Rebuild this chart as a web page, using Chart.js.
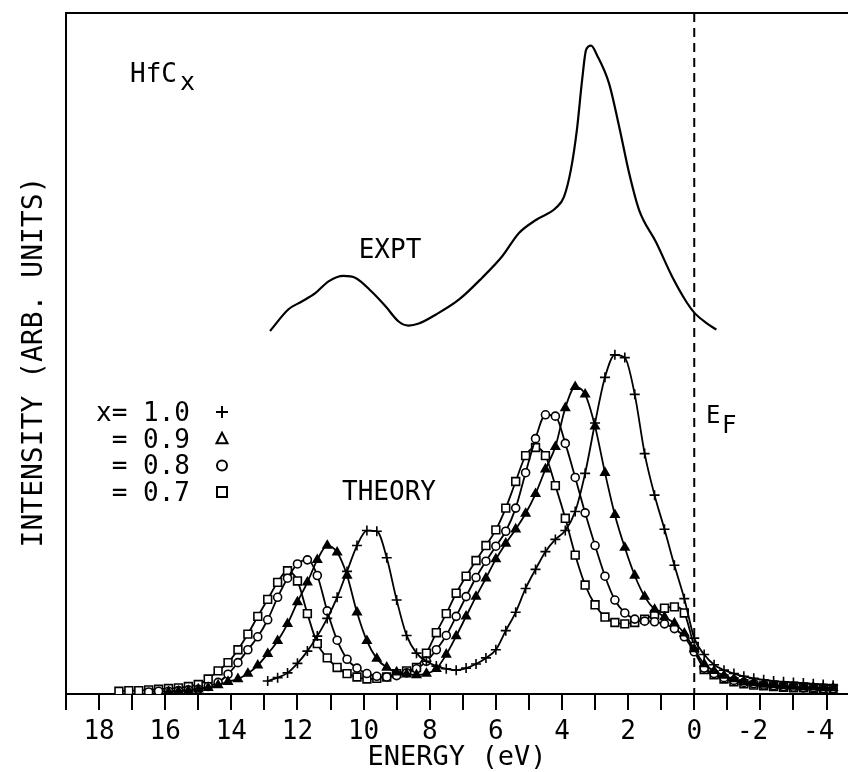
<!DOCTYPE html>
<html>
<head>
<meta charset="utf-8">
<title>HfCx spectra</title>
<script src="https://cdn.jsdelivr.net/npm/chart.js@4.4.1/dist/chart.umd.min.js"></script>
<style>
  html, body { margin: 0; padding: 0; background: #fff; }
  #wrap { width: 848px; height: 772px; }
</style>
</head>
<body>
<div id="wrap"><canvas id="myChart" width="848" height="772"></canvas></div>
<script>
// ---------------------------------------------------------------- data

// experimental curve (energy in eV, intensity in arb. units)
const exptEnergy = [12.83, 12.27, 11.88, 11.45, 11.06, 10.61, 10.24, 9.76, 9.33, 8.94,
  8.64, 8.33, 7.82, 7.12, 6.42, 5.82, 5.30, 4.79, 4.18, 3.94,
  3.73, 3.55, 3.39, 3.27, 3.12, 2.94, 2.58, 2.27, 1.97, 1.67,
  1.15, 0.67, 0.24, 0.0, -0.36, -0.67];
const exptIntensity = [53.3, 56.5, 57.6, 58.9, 60.6, 61.4, 61.1, 59.1, 56.9, 54.7,
  54.1, 54.4, 55.7, 57.9, 61.1, 64.2, 67.7, 69.6, 71.4, 73.0,
  77.0, 82.8, 90.2, 94.6, 95.2, 93.8, 89.7, 83.3, 76.5, 71.1,
  66.3, 61.3, 57.6, 56.0, 54.5, 53.5];

// theory curves, all sampled on the same energies
const theoryEnergy = [17.4, 17.1, 16.8, 16.5, 16.2, 15.9, 15.6, 15.3, 15.0, 14.7,
  14.4, 14.1, 13.8, 13.5, 13.2, 12.9, 12.6, 12.3, 12.0, 11.7,
  11.4, 11.1, 10.8, 10.5, 10.2, 9.9, 9.6, 9.3, 9.0, 8.7,
  8.4, 8.1, 7.8, 7.5, 7.2, 6.9, 6.6, 6.3, 6.0, 5.7,
  5.4, 5.1, 4.8, 4.5, 4.2, 3.9, 3.6, 3.3, 3.0, 2.7,
  2.4, 2.1, 1.8, 1.5, 1.2, 0.9, 0.6, 0.3, 0.0, -0.3,
  -0.6, -0.9, -1.2, -1.5, -1.8, -2.1, -2.4, -2.7, -3.0, -3.3,
  -3.6, -3.9, -4.2];

const theoryX10 = [null, null, null, null, null, null, null, null, null, null,
  null, null, null, null, null, 1.9, 2.4, 3.1, 4.5, 6.3,
  8.5, 11.1, 14.2, 18.0, 21.8, 24.0, 23.9, 20.0, 13.8, 8.6,
  6.0, 4.8, 4.1, 3.7, 3.5, 3.8, 4.4, 5.3, 6.5, 9.3,
  12.0, 15.5, 18.3, 20.9, 22.7, 24.0, 26.8, 32.4, 39.8, 46.5,
  49.8, 49.4, 44.0, 35.3, 29.2, 24.2, 18.9, 14.0, 8.2, 5.8,
  4.3, 3.5, 3.0, 2.6, 2.3, 2.1, 1.9, 1.8, 1.7, 1.6,
  1.5, 1.4, 1.3];

const theoryX09 = [null, null, null, null, null, 0.3, 0.4, 0.5, 0.7, 0.9,
  1.3, 1.8, 2.2, 3.0, 4.2, 5.9, 7.8, 10.3, 13.5, 16.4,
  19.7, 21.8, 20.8, 17.4, 12.0, 7.8, 5.2, 3.9, 3.2, 2.9,
  2.8, 3.0, 3.7, 5.8, 8.5, 11.4, 14.3, 17.0, 19.8, 22.1,
  24.2, 26.5, 29.4, 33.0, 36.3, 42.0, 45.1, 44.0, 39.3, 32.5,
  26.3, 21.5, 17.4, 14.3, 12.4, 11.3, 10.4, 8.9, 6.6, 4.4,
  3.4, 2.7, 2.2, 1.8, 1.6, 1.4, 1.3, 1.2, 1.1, 1.0,
  1.0, 0.9, 0.9];

const theoryX08 = [null, null, null, 0.3, 0.4, 0.4, 0.5, 0.6, 0.7, 1.1,
  1.7, 2.9, 4.6, 6.5, 8.4, 10.9, 14.2, 17.0, 19.1, 19.7,
  17.4, 12.2, 7.9, 5.1, 3.8, 3.0, 2.6, 2.5, 2.7, 3.1,
  3.7, 4.8, 6.5, 8.6, 11.4, 14.3, 17.1, 19.5, 21.7, 23.9,
  27.3, 32.5, 37.5, 41.0, 40.8, 36.8, 31.8, 26.6, 21.8, 17.3,
  13.8, 11.9, 11.0, 10.7, 10.6, 10.3, 9.6, 8.4, 6.2, 3.8,
  3.0, 2.4, 2.0, 1.7, 1.5, 1.3, 1.2, 1.1, 1.0, 0.9,
  0.9, 0.8, 0.8];

const theoryX07 = [0.4, 0.5, 0.5, 0.6, 0.7, 0.8, 0.9, 1.1, 1.4, 2.2,
  3.4, 4.6, 6.5, 8.8, 11.4, 13.9, 16.4, 18.1, 16.6, 11.8,
  7.4, 5.3, 3.9, 3.0, 2.5, 2.2, 2.3, 2.5, 3.0, 3.4,
  3.9, 6.0, 9.0, 11.8, 14.8, 17.3, 19.6, 21.8, 24.1, 27.3,
  31.2, 35.0, 36.2, 35.0, 30.6, 25.8, 20.4, 16.0, 13.1, 11.3,
  10.5, 10.3, 10.5, 11.0, 11.7, 12.6, 12.8, 11.9, 7.0, 3.6,
  2.8, 2.2, 1.8, 1.5, 1.3, 1.2, 1.1, 1.0, 0.9, 0.9,
  0.8, 0.8, 0.8];

const legendLabels = ['x= 1.0', '= 0.9', '= 0.8', '= 0.7'];
const legendStyles = ['cross', 'triangle', 'circle', 'rect'];

// ----------------------------------------------------------------

const FONT = "'DejaVu Sans Mono', 'Liberation Mono', monospace";

function toPoints(xs, ys) {
  var out = [];
  for (var i = 0; i < xs.length; i++) {
    if (ys[i] !== null) out.push({ x: xs[i], y: ys[i] });
  }
  return out;
}

function theorySet(values, style, radius, fill) {
  return {
    data: toPoints(theoryEnergy, values),
    borderColor: '#000',
    borderWidth: 1.8,
    cubicInterpolationMode: 'monotone',
    pointStyle: style,
    pointRadius: radius,
    pointBorderWidth: 1.6,
    pointBorderColor: '#000',
    pointBackgroundColor: fill,
    fill: false
  };
}

const data = {
  datasets: [
    {
      data: toPoints(exptEnergy, exptIntensity),
      borderColor: '#000',
      borderWidth: 2.2,
      pointRadius: 0,
      cubicInterpolationMode: 'monotone',
      fill: false
    },
    theorySet(theoryX10, 'cross', 5, '#000'),
    theorySet(theoryX09, 'triangle', 4.8, '#000'),
    theorySet(theoryX08, 'circle', 4, '#fff'),
    theorySet(theoryX07, 'rect', 5.5, '#fff')
  ]
};

function marker(ctx, style, x, y) {
  ctx.beginPath();
  if (style === 'cross') {
    ctx.moveTo(x - 6, y); ctx.lineTo(x + 6, y);
    ctx.moveTo(x, y - 6); ctx.lineTo(x, y + 6);
  } else if (style === 'triangle') {
    ctx.moveTo(x, y - 6); ctx.lineTo(x + 5.5, y + 4.5); ctx.lineTo(x - 5.5, y + 4.5); ctx.closePath();
  } else if (style === 'circle') {
    ctx.arc(x, y, 5, 0, Math.PI * 2);
  } else {
    ctx.rect(x - 5, y - 5, 10, 10);
  }
  ctx.stroke();
}

const annotations = {
  id: 'annotations',
  beforeDatasetsDraw(chart) {
    const { ctx, chartArea: a, scales: { x } } = chart;
    ctx.save();
    ctx.strokeStyle = '#000';
    ctx.lineWidth = 2;
    ctx.beginPath();
    ctx.moveTo(a.left - 1, a.top);
    ctx.lineTo(a.right, a.top);
    ctx.stroke();
    // Fermi level
    const xf = x.getPixelForValue(0);
    ctx.setLineDash([9, 6]);
    ctx.beginPath();
    ctx.moveTo(xf, a.top);
    ctx.lineTo(xf, a.bottom);
    ctx.stroke();
    ctx.restore();
  },
  afterDraw(chart) {
    const ctx = chart.ctx;
    ctx.save();
    ctx.fillStyle = '#000';
    ctx.strokeStyle = '#000';
    ctx.textBaseline = 'alphabetic';

    ctx.font = '26px ' + FONT;
    ctx.textAlign = 'left';
    ctx.fillText('HfC', 130, 82);
    ctx.font = '25px ' + FONT;
    ctx.fillText('x', 180, 90);

    ctx.font = '26px ' + FONT;
    ctx.textAlign = 'center';
    ctx.fillText('EXPT', 390, 258);
    ctx.fillText('THEORY', 389, 500);

    ctx.textAlign = 'left';
    ctx.font = '24px ' + FONT;
    ctx.fillText('E', 706, 423);
    ctx.fillText('F', 722, 433);

    // legend
    ctx.font = '26px ' + FONT;
    ctx.textAlign = 'right';
    ctx.lineWidth = 2;
    for (var i = 0; i < legendLabels.length; i++) {
      var yb = 421 + i * 26.7;
      ctx.fillText(legendLabels[i], 190, yb);
      marker(ctx, legendStyles[i], 222, yb - 9);
    }

    // y axis title
    ctx.translate(42, 362);
    ctx.rotate(-Math.PI / 2);
    ctx.textAlign = 'center';
    ctx.font = '28px ' + FONT;
    ctx.fillText('INTENSITY (ARB. UNITS)', 0, 0);
    ctx.restore();
  }
};

const config = {
  type: 'line',
  data: data,
  plugins: [annotations],
  options: {
    responsive: false,
    animation: false,
    layout: { autoPadding: false, padding: { left: 66, top: 13, right: 0, bottom: 0 } },
    plugins: {
      legend: { display: false },
      tooltip: { enabled: false }
    },
    scales: {
      x: {
        type: 'linear',
        reverse: true,
        min: -4.65,
        max: 19,
        afterFit: function (scale) {
          scale.paddingRight = 0;
          scale.paddingLeft = 0;
        },
        border: { display: true, color: '#000', width: 2 },
        grid: {
          display: true,
          drawOnChartArea: false,
          drawTicks: true,
          tickLength: 16,
          color: '#000',
          lineWidth: 2
        },
        ticks: {
          stepSize: 1,
          maxTicksLimit: 40,
          includeBounds: false,
          autoSkip: false,
          maxRotation: 0,
          padding: 9,
          color: '#000',
          font: { family: FONT, size: 26, lineHeight: 1 },
          callback: function (value) {
            if (Math.round(value) % 2 !== 0) return '';
            return value < 0 ? value + ' ' : String(value);
          }
        },
        title: {
          display: true,
          text: 'ENERGY (eV)',
          color: '#000',
          font: { family: FONT, size: 27, lineHeight: 1 },
          padding: { top: -10, bottom: 1 }
        }
      },
      y: {
        min: 0,
        max: 100,
        border: { display: true, color: '#000', width: 2 },
        grid: { display: false, drawTicks: false },
        ticks: { display: false }
      }
    }
  }
};

var canvas = document.getElementById('myChart').getContext('2d');
var myChart = new Chart(canvas, config);
</script>
</body>
</html>
